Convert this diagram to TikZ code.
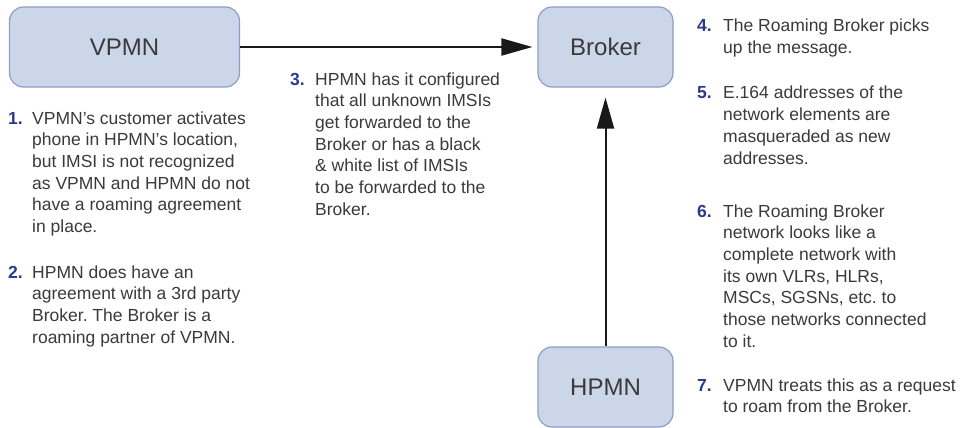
\documentclass[tikz,border=0pt]{standalone}
\usepackage{fontspec}
\setmainfont{Liberation Sans}
\usetikzlibrary{arrows.meta}
\frenchspacing
\definecolor{boxfill}{HTML}{CBD7E9}
\definecolor{boxline}{HTML}{8E9CC6}
\definecolor{numblue}{HTML}{2B3A8F}
\definecolor{txtgray}{HTML}{3A3A3A}
\newcommand{\mylines}[1]{\begin{tabular}[t]{@{}l@{}}#1\end{tabular}}
\tikzset{
  netbox/.style={draw=boxline, fill=boxfill, line width=1.2pt, rounded corners=14pt,
    minimum width=#1, minimum height=80pt, inner sep=0pt, text=txtgray,
    font=\fontsize{24}{28}\selectfont},
  itemnum/.style={anchor=base west, inner sep=0pt, text=numblue,
    font=\fontsize{17.5}{21.7}\selectfont\bfseries},
  itemtxt/.style={anchor=base west, inner sep=0pt, text=txtgray,
    font=\fontsize{17.5}{21.7}\selectfont},
  conn/.style={line width=2pt, draw=black!90, -{Triangle[length=31pt,width=17pt]}}
}
\begin{document}
\begin{tikzpicture}[x=1pt,y=-1pt]
\useasboundingbox (0,0) rectangle (961,428);
\node[netbox=230pt] (vpmn) at (124.5,47) {VPMN};
\node[netbox=135pt] (broker) at (605.5,47) {Broker};
\node[netbox=135pt] (hpmn) at (605.5,387) {HPMN};
\draw[conn, shorten >=5pt] (vpmn.east) -- (broker.west);
\draw[conn, shorten >=10pt] (hpmn.north) -- (broker.south);
% item 1
\node[itemnum] (n1) at (8,124) {1.};
\node[itemtxt] (t1) at (32,124) {\mylines{VPMN's customer activates\\phone in HPMN's location,\\but IMSI is not recognized\\as VPMN and HPMN do not\\have a roaming agreement\\in place.}};
% item 2
\node[itemnum] (n2) at (8,278) {2.};
\node[itemtxt] (t2) at (32,278) {\mylines{HPMN does have an\\agreement with a 3rd party\\Broker. The Broker is a\\roaming partner of VPMN.}};
% item 3
\node[itemnum] (n3) at (290,85) {3.};
\node[itemtxt] (t3) at (315,85) {\mylines{HPMN has it configured\\that all unknown IMSIs\\get forwarded to the\\Broker or has a black\\\& white list of IMSIs\\to be forwarded to the\\Broker.}};
% item 4
\node[itemnum] (n4) at (697,32) {4.};
\node[itemtxt] (t4) at (723,32) {\mylines{The Roaming Broker picks\\up the message.}};
% item 5
\node[itemnum] (n5) at (697,99) {5.};
\node[itemtxt] (t5) at (723,99) {\mylines{E.164 addresses of the\\network elements are\\masqueraded as new\\addresses.}};
% item 6
\node[itemnum] (n6) at (697,217) {6.};
\node[itemtxt] (t6) at (723,217) {\mylines{The Roaming Broker\\network looks like a\\complete network with\\its own VLRs, HLRs,\\MSCs, SGSNs, etc. to\\those networks connected\\to it.}};
% item 7
\node[itemnum] (n7) at (697,391) {7.};
\node[itemtxt] (t7) at (723,391) {\mylines{VPMN treats this as a request\\to roam from the Broker.}};
\end{tikzpicture}
\end{document}
